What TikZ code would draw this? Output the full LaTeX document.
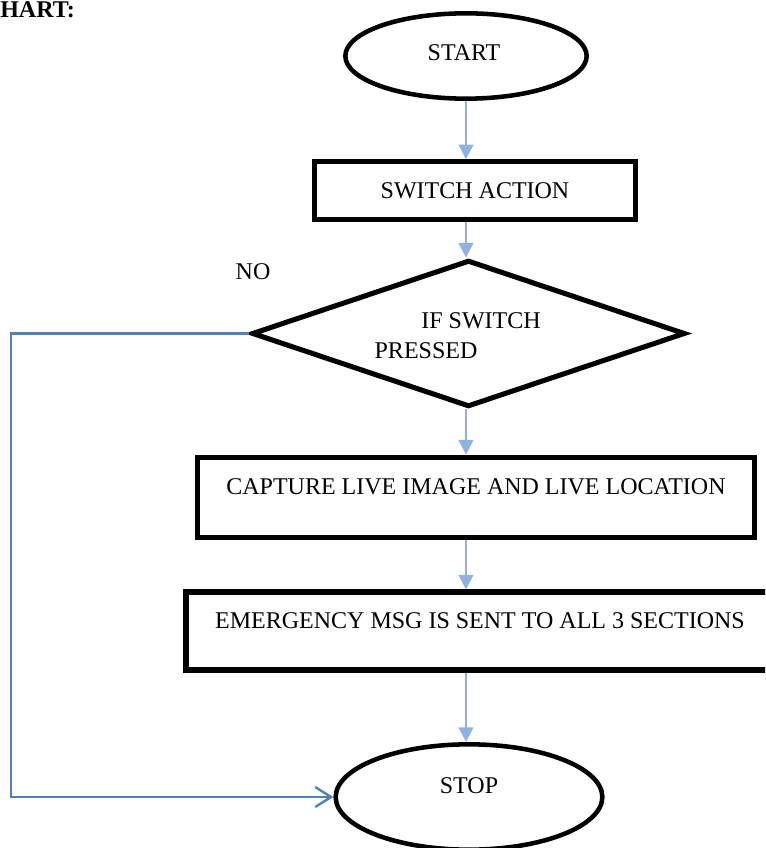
\documentclass[tikz,border=0pt]{standalone}
\usepackage{fontspec}
\setmainfont{Liberation Serif}
\usetikzlibrary{shapes.geometric,arrows.meta}
\definecolor{arrowblue}{HTML}{8DB3E2}
\definecolor{loopblue}{HTML}{4F81BD}
\tikzset{
  px/.style={x=0.75pt,y=-0.75pt},
  boxnode/.style={draw=black,line width=3.8pt,rectangle,inner sep=0pt},
  ovalnode/.style={draw=black,line width=3.4pt,ellipse,inner sep=0pt},
  decnode/.style={draw=black,line width=3.8pt,diamond,inner sep=0pt},
  txt/.style={font=\fontsize{18pt}{21pt}\selectfont,inner sep=0pt},
  flowarrow/.style={draw=arrowblue,line width=1.6pt,-{Triangle[length=11pt,width=11pt]}},
  looparrow/.style={draw=loopblue,line width=1.8pt,-{Straight Barb[length=12pt,width=15pt,line width=1.8pt]}}
}
\begin{document}
\begin{tikzpicture}[px]
\useasboundingbox (0,0) rectangle (765,848);
\clip (0,0) rectangle (765,848);
% heading fragment
\node[txt,font=\fontsize{18pt}{21pt}\selectfont\bfseries,anchor=base west] (head) at (0,18) {HART:};
% nodes
\node[ovalnode,minimum width=181pt,minimum height=64pt] (start) at (466,56) {};
\node[txt] (starttxt) at (464,53) {START};
\node[boxnode,minimum width=241pt,minimum height=43pt] (switch) at (475,190.5) {};
\node[txt] (switchtxt) at (475,191) {SWITCH ACTION};
\node[decnode,minimum width=325pt,minimum height=110pt] (dec) at (468.5,333.5) {};
\node[txt] (dectxt1) at (481,321) {IF SWITCH};
\node[txt] (dectxt2) at (426,351) {PRESSED};
\node[txt] (no) at (253,272) {NO};
\node[boxnode,minimum width=418pt,minimum height=60.5pt] (capture) at (476,497.5) {};
\node[txt] (capturetxt) at (476,487) {CAPTURE LIVE IMAGE AND LIVE LOCATION};
\node[boxnode,minimum width=441pt,minimum height=58.5pt] (emerg) at (480,631) {};
\node[txt] (emergtxt) at (480,621) {EMERGENCY MSG IS SENT TO ALL 3 SECTIONS};
\node[ovalnode,minimum width=200pt,minimum height=79pt] (stop) at (469,797) {};
\node[txt] (stoptxt) at (469,786) {STOP};
\coordinate (corner) at (11,333.5);
% connectors
\draw[flowarrow] (start.south) -- (start.south |- switch.north);
\draw[flowarrow] (start.south |- switch.south) -- (start.south |- dec.north);
\draw[flowarrow] (start.south |- dec.south) -- (start.south |- capture.north);
\draw[flowarrow] (start.south |- capture.south) -- (start.south |- emerg.north);
\draw[flowarrow] (start.south |- emerg.south) -- (start.south |- stop.north);
\draw[looparrow] (dec.west) -- (corner) |- (stop.west);
\end{tikzpicture}
\end{document}
